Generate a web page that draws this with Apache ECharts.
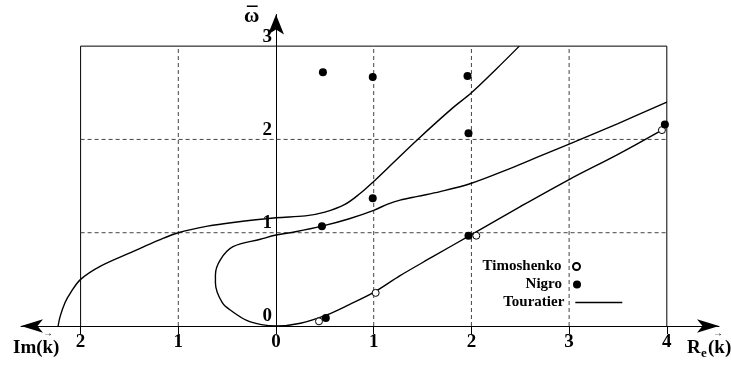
<!DOCTYPE html>
<html><head><meta charset="utf-8">
<script src="https://cdn.jsdelivr.net/npm/echarts@6/dist/echarts.min.js"></script>
<style>html,body{margin:0;padding:0;background:#fff}#c{width:731px;height:365px}</style>
</head><body><div id="c"></div>
<script>
// ---- data ----
const xTicks = [-2, -1, 0, 1, 2, 3, 4];
const yTicks = [0, 1, 2, 3];
const gridXDashed = [-1, 1, 2, 3];
const gridYDashed = [1, 2];
const frameX = [-2, 4];
const frameTop = 3;
const timoshenko = [[0.44, 0.05], [1.02, 0.355], [2.05, 0.968], [3.95, 2.10]];
const nigro = [[0.48, 2.72], [0.99, 2.67], [1.96, 2.68], [1.97, 2.065], [0.99, 1.37],
               [0.47, 1.07], [1.97, 0.968], [0.51, 0.086], [3.98, 2.16]];
const touratierA = [[-2.23, 0], [-2.21, 0.1], [-2.16, 0.25], [-2.1, 0.36], [-2.0, 0.5],
  [-1.8, 0.64], [-1.46, 0.8], [-1.2, 0.92], [-1.0, 1.0], [-0.7, 1.07], [-0.44, 1.11],
  [0, 1.16], [0.3, 1.18], [0.5, 1.22], [0.7, 1.3], [0.86, 1.42], [1.0, 1.55], [1.2, 1.75],
  [1.45, 2.0], [1.8, 2.33], [2.0, 2.5], [2.25, 2.75], [2.49, 3.0]];
const touratierB = [[4.0, 2.40], [3.5, 2.17], [3.0, 1.95], [2.7, 1.82], [2.4, 1.69], [2.0, 1.53],
  [1.68, 1.44], [1.45, 1.39], [1.27, 1.35], [1.15, 1.31], [1.0, 1.24], [0.75, 1.15],
  [0.47, 1.07], [0.2, 1.01], [0, 0.975], [-0.16, 0.93], [-0.44, 0.85], [-0.57, 0.71],
  [-0.62, 0.55], [-0.62, 0.46], [-0.55, 0.25], [-0.44, 0.15], [-0.3, 0.06], [-0.15, 0.015],
  [0, 0], [0.25, 0.03], [0.52, 0.12], [0.75, 0.23], [1.0, 0.36], [1.27, 0.54], [1.6, 0.74],
  [2.0, 0.98], [2.5, 1.28], [3.0, 1.57], [3.5, 1.84], [3.95, 2.1]];

// ---- build ----
const FONT = '"Liberation Serif", "Times New Roman", serif';
const series = [];
series.push({
  type: 'line', silent: true, symbol: 'none', z: 1,
  data: [[frameX[0], 0], [frameX[0], frameTop], [frameX[1], frameTop], [frameX[1], 0]],
  lineStyle: { color: '#000', width: 1 }
});
gridXDashed.forEach(x => series.push({
  type: 'line', silent: true, symbol: 'none', z: 1,
  data: [[x, 0], [x, frameTop]],
  lineStyle: { color: '#444', width: 1, type: [4, 3] }
}));
gridYDashed.forEach(y => series.push({
  type: 'line', silent: true, symbol: 'none', z: 1,
  data: [[frameX[0], y], [frameX[1], y]],
  lineStyle: { color: '#444', width: 1, type: [4, 3] }
}));
[touratierA, touratierB].forEach(d => series.push({
  name: 'Touratier', type: 'line', symbol: 'none', smooth: 0.35, z: 3,
  data: d, lineStyle: { color: '#000', width: 1.4 }, itemStyle: { color: '#000' }
}));
series.push({
  name: 'Timoshenko', type: 'scatter', symbol: 'circle', symbolSize: 7, z: 4,
  data: timoshenko, itemStyle: { color: '#fff', borderColor: '#000', borderWidth: 1, opacity: 1 }
});
series.push({
  name: 'Nigro', type: 'scatter', symbol: 'circle', symbolSize: 8, z: 5,
  data: nigro, itemStyle: { color: '#000', opacity: 1 }
});

const legTs = { fontFamily: FONT, fontWeight: 'bold', fontSize: 15, color: '#000' };
function leg(name, right, top, w, h, extra) {
  return Object.assign({
    data: [name], right: right, top: top, orient: 'vertical', align: 'right',
    itemWidth: w, itemHeight: h, padding: 0, selectedMode: false,
    textStyle: Object.assign({}, legTs)
  }, extra || {});
}

const chart = echarts.init(document.getElementById('c'), null, { renderer: 'canvas' });
chart.setOption({
  animation: false,
  backgroundColor: '#fff',
  grid: { left: 21, right: 12, top: 14.5, bottom: 39, containLabel: false },
  xAxis: {
    type: 'value', min: -2.61, max: 4.534,
    splitLine: { show: false },
    axisLine: { show: true, symbol: ['arrow', 'arrow'], symbolSize: [10, 22],
      lineStyle: { color: '#000', width: 1 } },
    axisTick: { show: true, customValues: xTicks, length: 8, lineStyle: { color: '#000' } },
    axisLabel: { customValues: xTicks, margin: 7, color: '#000', fontFamily: FONT,
      fontWeight: 'bold', fontSize: 19, formatter: v => String(Math.abs(v)) }
  },
  yAxis: {
    type: 'value', min: 0, max: 3.339, offset: -255,
    splitLine: { show: false },
    axisLine: { show: true, onZero: false, symbol: ['none', 'arrow'], symbolSize: [12, 20],
      lineStyle: { color: '#000', width: 1 } },
    axisTick: { show: false },
    axisLabel: { customValues: yTicks, margin: 4, color: '#000', fontFamily: FONT,
      fontWeight: 'bold', fontSize: 19, verticalAlign: 'bottom' }
  },
  legend: [
    leg('Timoshenko', 150, 259, 20, 7),
    leg('Nigro', 150, 277, 20, 8),
    leg('Touratier', 108, 295, 47, 10, {
      itemStyle: { opacity: 0 },
      lineStyle: { color: '#000', width: 1.4 },
      textStyle: Object.assign({}, legTs, { padding: [0, 6, 0, 0] }) })
  ],
  graphic: [
    { type: 'text', left: 244, top: 6, style: { text: 'ω', font: 'bold 21px ' + FONT, fill: '#000' } },
    { type: 'text', left: 247, top: 5, style: { text: '¯', font: 'bold 21px ' + FONT, fill: '#000' } },
    { type: 'text', left: 13, top: 339, style: { text: 'Im(k)', font: 'bold 19px ' + FONT, fill: '#000' } },
    { type: 'text', left: 43, top: 328, style: { text: '→', font: 'bold 10px ' + FONT, fill: '#000' } },
    { type: 'text', left: 687, top: 339, style: { text: 'R', font: 'bold 19px ' + FONT, fill: '#000' } },
    { type: 'text', left: 701, top: 347, style: { text: 'e', font: 'bold 13px ' + FONT, fill: '#000' } },
    { type: 'text', left: 708, top: 339, style: { text: '(k)', font: 'bold 19px ' + FONT, fill: '#000' } },
    { type: 'text', left: 713, top: 328, style: { text: '→', font: 'bold 10px ' + FONT, fill: '#000' } }
  ],
  series: series
});
</script></body></html>
